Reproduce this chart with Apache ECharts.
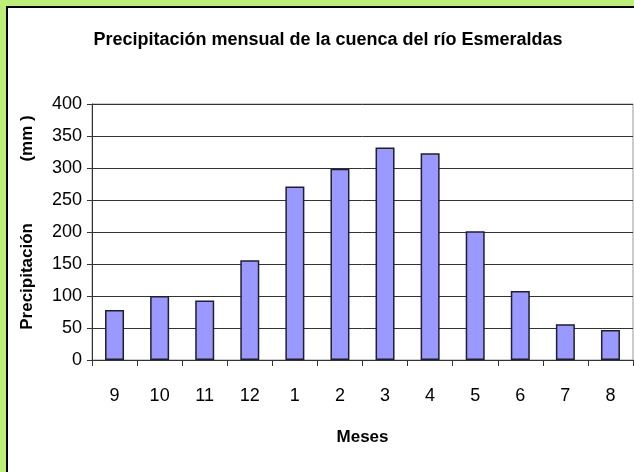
<!DOCTYPE html>
<html>
<head>
<meta charset="utf-8">
<script src="https://cdn.jsdelivr.net/npm/echarts@6/dist/echarts.min.js"></script>
<style>
html,body{margin:0;padding:0;background:#fff;}
#c{width:634px;height:472px;}
</style>
</head>
<body>
<div id="c"></div>
<script>
var months = ['9','10','11','12','1','2','3','4','5','6','7','8'];
var precip = [78, 100, 93, 156, 271, 299, 332, 323, 201, 108, 56, 47];
var yTicks = [0, 50, 100, 150, 200, 250, 300, 350, 400];
var titleText = 'Precipitación mensual de la cuenca del río Esmeraldas';
var yName = '    Precipitación             (mm )';
var xName = 'Meses';

var FONT = "'Liberation Sans', Arial, sans-serif";
var chart = echarts.init(document.getElementById('c'), null, {renderer: 'canvas'});
chart.setOption({
  backgroundColor: '#ffffff',
  animation: false,
  title: {
    text: titleText,
    left: 323,
    textAlign: 'center',
    top: 26,
    textStyle: {fontFamily: FONT, fontSize: 18, fontWeight: 'bold', color: '#000'}
  },
  graphic: [
    {type: 'rect', shape: {x: 0, y: 0, width: 634, height: 6}, style: {fill: '#bdee78'}, z: 100},
    {type: 'rect', shape: {x: 0, y: 0, width: 6, height: 472}, style: {fill: '#bdee78'}, z: 100},
    {type: 'rect', shape: {x: 6, y: 6, width: 628, height: 2}, style: {fill: '#000'}, z: 100},
    {type: 'rect', shape: {x: 6, y: 6, width: 2, height: 466}, style: {fill: '#000'}, z: 100}
  ],
  grid: {left: 92, top: 104, right: 1, bottom: 112, show: true, borderColor: '#999', borderWidth: 1, containLabel: false},
  xAxis: {
    type: 'category',
    data: months,
    name: xName,
    nameLocation: 'middle',
    nameGap: 69,
    nameTextStyle: {fontFamily: FONT, fontSize: 17, fontWeight: 'bold', color: '#000'},
    axisLine: {lineStyle: {color: '#333', width: 1}},
    axisTick: {show: true, alignWithLabel: false, length: 6, lineStyle: {color: '#333'}},
    axisLabel: {fontFamily: FONT, fontSize: 18, color: '#000', margin: 27}
  },
  yAxis: {
    type: 'value',
    min: 0, max: 400, interval: 50,
    name: yName,
    nameLocation: 'middle',
    nameGap: 56,
    nameTextStyle: {fontFamily: FONT, fontSize: 17, fontWeight: 'bold', color: '#000'},
    axisLine: {show: true, lineStyle: {color: '#333', width: 1}},
    axisTick: {show: true, length: 5, lineStyle: {color: '#333'}},
    axisLabel: {fontFamily: FONT, fontSize: 18, color: '#000', margin: 10,
      formatter: function (v) { return yTicks.indexOf(v) >= 0 ? String(v) : ''; }},
    splitLine: {show: true, lineStyle: {color: '#333', width: 1}}
  },
  series: [{
    type: 'bar',
    data: precip,
    barWidth: 19,
    itemStyle: {color: '#9999ff', borderColor: '#1f1f2e', borderWidth: 1.5}
  }]
});
</script>
</body>
</html>
